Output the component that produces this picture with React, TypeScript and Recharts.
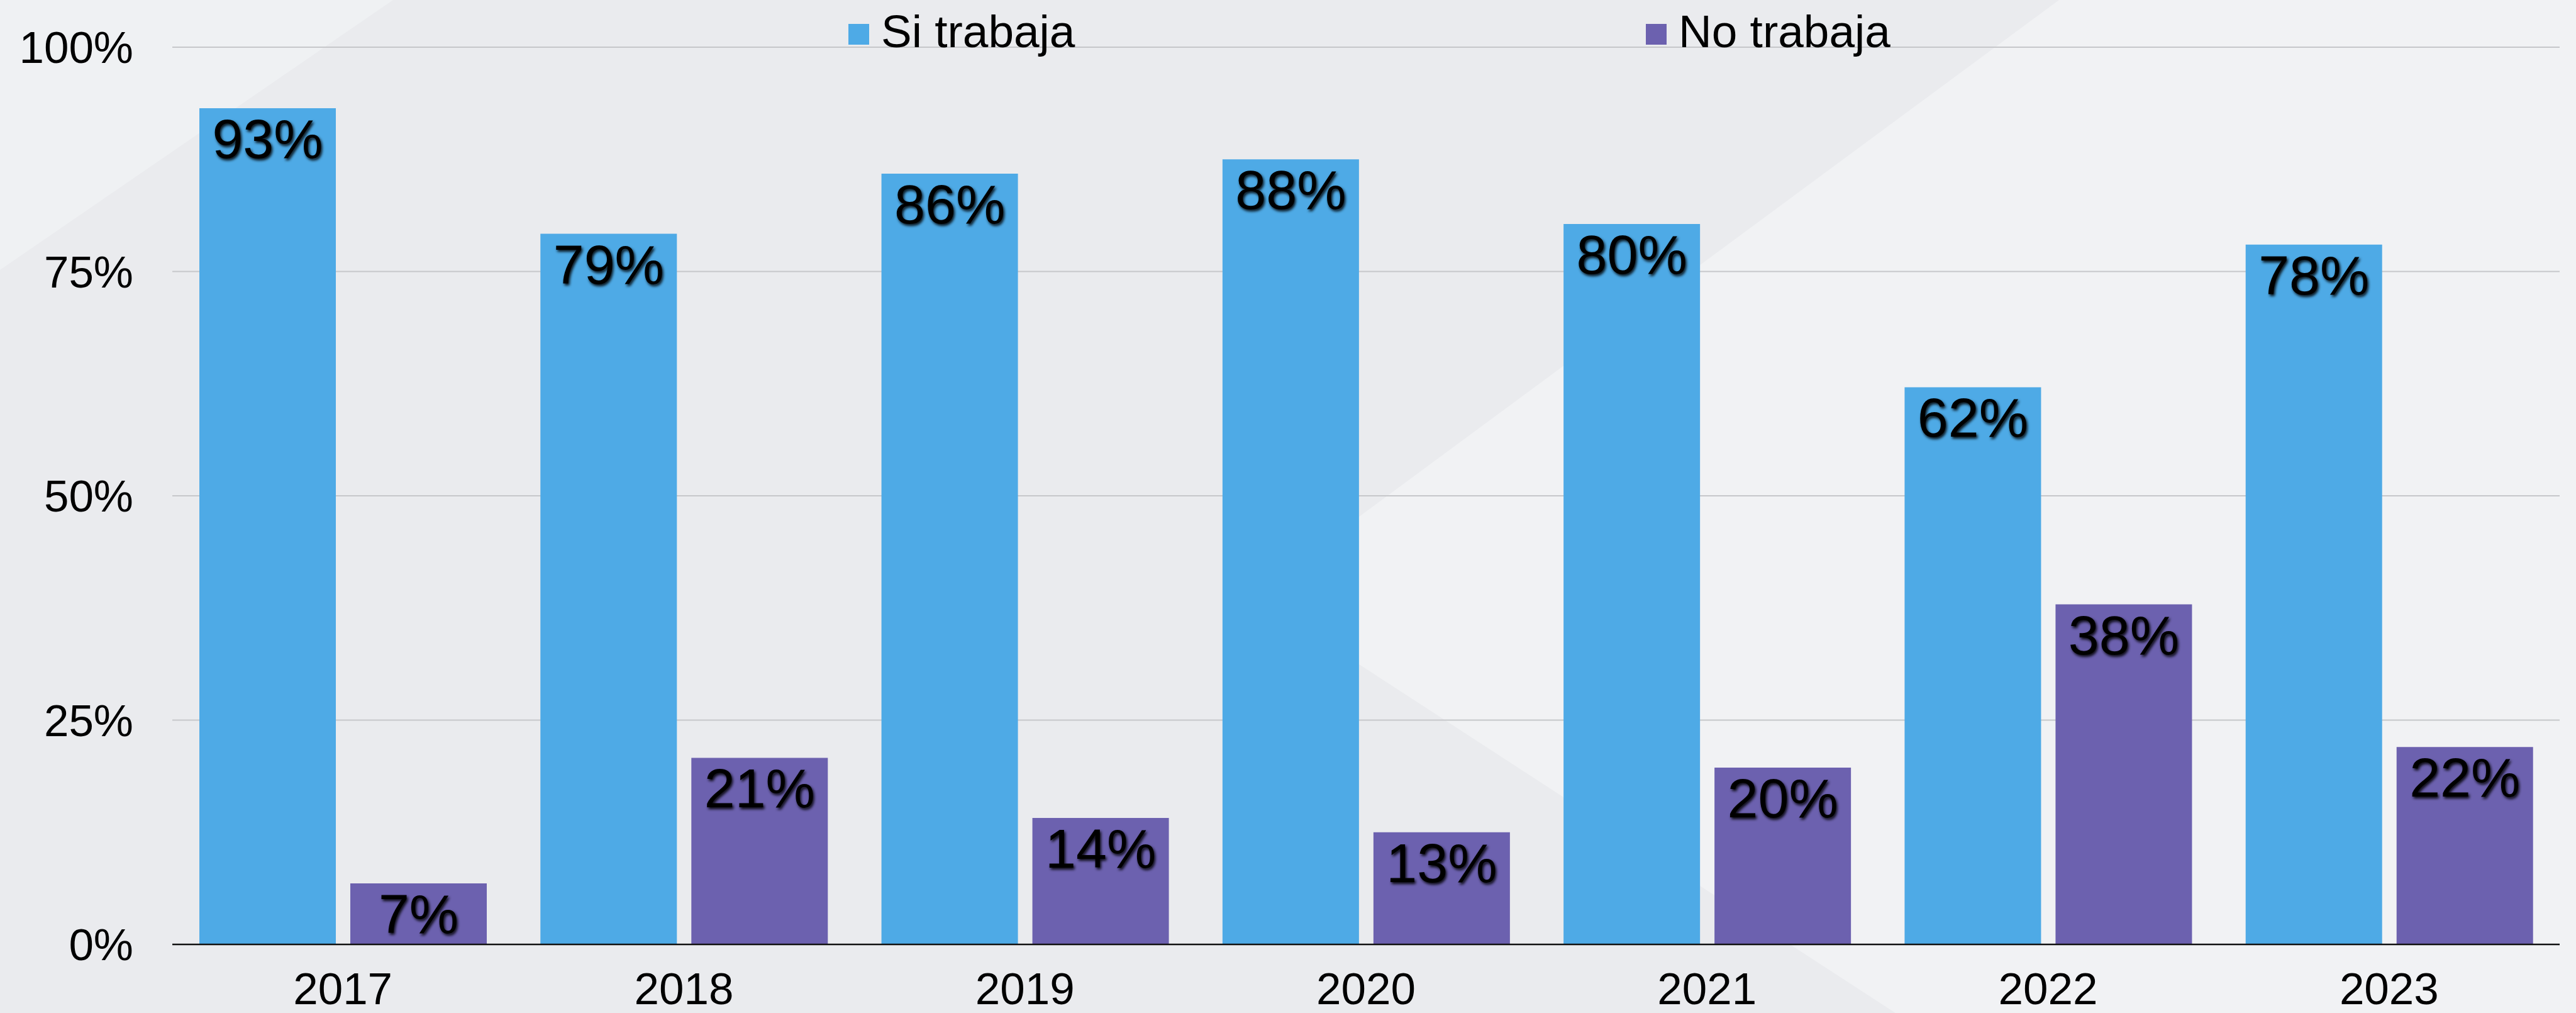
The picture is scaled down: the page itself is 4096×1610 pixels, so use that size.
import { Bar, BarChart, CartesianGrid, LabelList, Legend, XAxis, YAxis } from 'recharts'

const years = ['2017', '2018', '2019', '2020', '2021', '2022', '2023']
const siTrabaja = [93.2, 79.2, 85.9, 87.5, 80.3, 62.1, 78.0]
const noTrabaja = [6.8, 20.8, 14.1, 12.5, 19.7, 37.9, 22.0]
const yTicks = [0, 25, 50, 75, 100]

const seriesKeys = ['si', 'no']
const seriesNames: Record<string, string> = { si: 'Si trabaja', no: 'No trabaja' }
const colors: Record<string, string> = { si: '#4EAAE6', no: '#6C61AF' }

const data = years.map((year, i) => ({ year, si: siTrabaja[i], no: noTrabaja[i] }))

const W = 4096
const H = 1610
const FONT = '"Liberation Sans", Arial, Helvetica, sans-serif'

// legend squares sit at fixed spots along the top, like the slide
const legendX = [1349, 2617]

function BarLabel(props: any) {
  const { x, y, width, value } = props
  return (
    <text
      x={Number(x) + Number(width) / 2}
      y={Number(y) + 79}
      textAnchor="middle"
      fontSize={88}
      fontFamily={FONT}
      fill="#000"
      filter="url(#lblShadow)"
    >
      {`${Math.round(Number(value))}%`}
    </text>
  )
}

function TopLegend(props: any) {
  const payload = props.payload ?? []
  // keep series order regardless of how the payload comes in
  const items = seriesKeys.map((k) => payload.find((p: any) => p.dataKey === k) ?? { value: seriesNames[k], color: colors[k] })
  return (
    <svg width={W} height={90} style={{ display: 'block', overflow: 'visible' }}>
      {items.map((it: any, i: number) => (
        <g key={it.value}>
          <rect x={legendX[i]} y={38} width={33} height={33} fill={it.color} />
          <text x={legendX[i] + 52} y={75} fontSize={73} fontFamily={FONT} fill="#000">
            {it.value}
          </text>
        </g>
      ))}
    </svg>
  )
}

export default function App() {
  return (
    <div style={{ position: 'relative', width: W, height: H, background: '#eaebee', overflow: 'hidden' }}>
      <style>{'body{margin:0}'}</style>
      <svg width={W} height={H} style={{ position: 'absolute', left: 0, top: 0 }}>
        <defs>
          <filter id="lblShadow" x="-20%" y="-20%" width="140%" height="160%">
            <feDropShadow dx="2" dy="3" stdDeviation="2" floodColor="#000" floodOpacity="0.9" />
          </filter>
        </defs>
        <polygon points="0,0 625,0 0,429" fill="#eff1f3" />
        <polygon points="3274,0 4096,0 4096,1610 3014,1610 1992,946" fill="#f1f2f4" />
      </svg>
      <div style={{ position: 'absolute', left: 0, top: 0 }}>
        <BarChart
          width={W}
          height={H}
          data={data}
          margin={{ top: 75, right: 26, left: 0, bottom: 0 }}
          barGap={23}
          barCategoryGap={43}
        >
          <CartesianGrid vertical={false} stroke="#c6c7ca" strokeWidth={2} />
          <XAxis
            dataKey="year"
            height={109}
            tickSize={0}
            tickMargin={45}
            axisLine={{ stroke: '#111', strokeWidth: 2.5 }}
            tick={{ fontSize: 71, fontFamily: FONT, fill: '#000' }}
          />
          <YAxis
            width={274}
            domain={[0, 100]}
            ticks={yTicks}
            interval={0}
            tickSize={0}
            tickMargin={62}
            axisLine={false}
            tickFormatter={(v: number) => `${v}%`}
            tick={{ fontSize: 71, fontFamily: FONT, fill: '#000' }}
          />
          <Legend
            verticalAlign="top"
            content={<TopLegend />}
            wrapperStyle={{ top: 0, left: 0, width: W, height: 0 }}
          />
          <Bar dataKey="si" name={seriesNames.si} fill={colors.si} isAnimationActive={false}>
            <LabelList dataKey="si" content={<BarLabel />} />
          </Bar>
          <Bar dataKey="no" name={seriesNames.no} fill={colors.no} isAnimationActive={false}>
            <LabelList dataKey="no" content={<BarLabel />} />
          </Bar>
        </BarChart>
      </div>
    </div>
  )
}
